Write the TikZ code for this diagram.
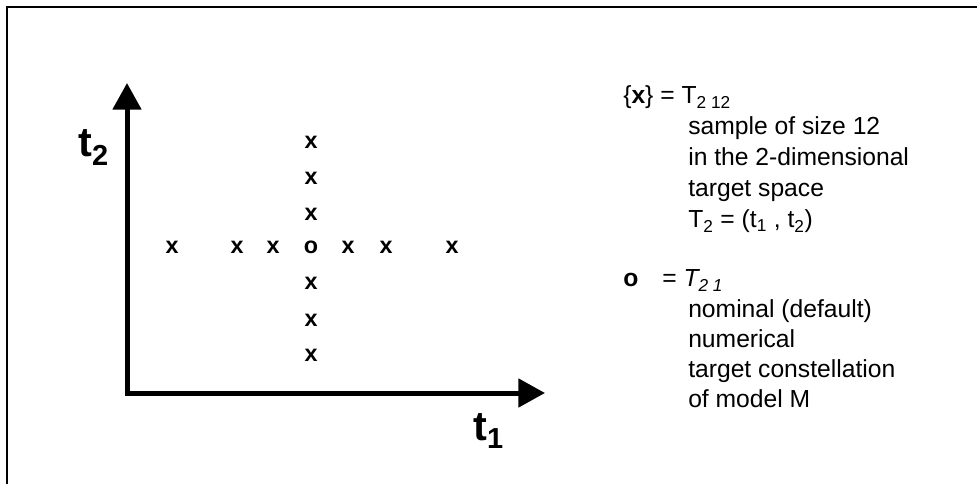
\documentclass[tikz,border=0pt]{standalone}
\usepackage{fontspec}
\setmainfont{Liberation Sans}
\usetikzlibrary{arrows.meta}
\begin{document}
\begin{tikzpicture}[x=0.75pt,y=-0.75pt,
  frame/.style={line width=1.6pt},
  axis/.style={line width=3.75pt,-{Triangle[length=20pt,width=21pt]}},
  pt/.style={inner sep=0pt,font=\fontsize{17.5}{19}\selectfont\bfseries},
  axlabel/.style={inner sep=0pt,anchor=base west,font=\fontsize{31}{33}\selectfont\bfseries},
  legend/.style={inner sep=0pt,anchor=base west,font=\fontsize{18.5}{20}\selectfont}]
\useasboundingbox (0,0) rectangle (977,484);
\draw[frame] (7,490) -- (7,7) -- (985,7);
% axes
\coordinate (origin) at (127,393);
\coordinate (ytip) at (127,83);
\coordinate (xtip) at (545,393);
\draw[axis] ([yshift=-1.4pt]origin) -- (ytip);
\draw[axis] ([xshift=-1.4pt]origin) -- (xtip);
\node[axlabel] (t2) at (78,157) {t\textsubscript{2}};
\node[axlabel] (t1) at (473,440) {t\textsubscript{1}};
% sample points
\node[pt] (o) at (311,247) {o};
\node[pt] (c1) at (311,142) {x};
\node[pt] (c2) at (311,178) {x};
\node[pt] (c3) at (311,214) {x};
\node[pt] (c4) at (311,283) {x};
\node[pt] (c5) at (311,320) {x};
\node[pt] (c6) at (311,355) {x};
\node[pt] (r1) at (172,247) {x};
\node[pt] (r2) at (237,247) {x};
\node[pt] (r3) at (273,247) {x};
\node[pt] (r4) at (348,247) {x};
\node[pt] (r5) at (386,247) {x};
\node[pt] (r6) at (452,247) {x};
% legend
\node[legend] (l1) at (623,104) {\{\textbf{x}\} = T\textsubscript{2 12}};
\node[legend] (l2) at (688,135) {sample of size 12};
\node[legend] (l3) at (688,166) {in the 2-dimensional};
\node[legend] (l4) at (688,197) {target space};
\node[legend] (l5) at (688,228) {T\textsubscript{2} = (t\textsubscript{1} , t\textsubscript{2})};
\node[legend] (m1) at (623,287) {\textbf{o}};
\node[legend] (m2) at (662,287) {= \textit{T\textsubscript{2 1}}};
\node[legend] (m3) at (688,317) {nominal (default)};
\node[legend] (m4) at (688,347) {numerical};
\node[legend] (m5) at (688,377) {target constellation};
\node[legend] (m6) at (688,407) {of model M};
\end{tikzpicture}
\end{document}
